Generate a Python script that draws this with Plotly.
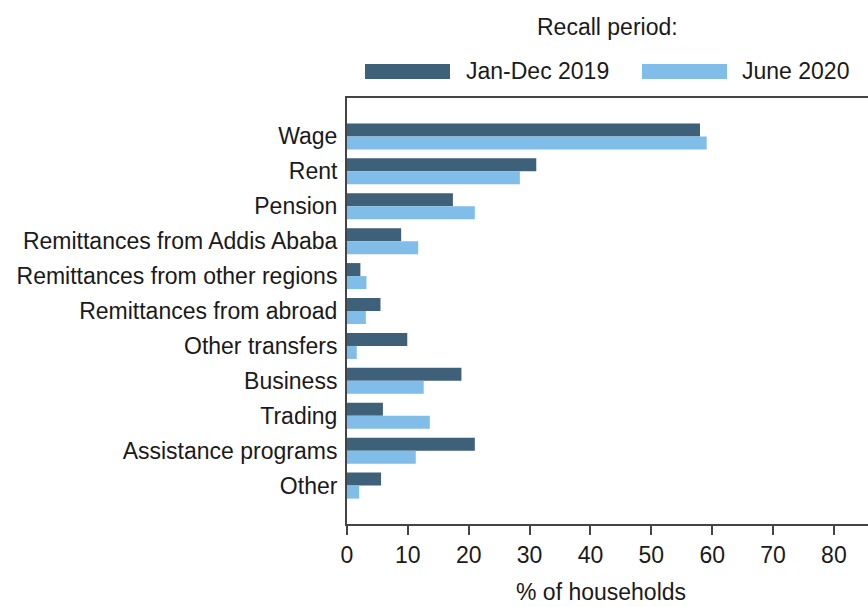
import plotly.graph_objects as go

# Income sources (top to bottom) and share of households reporting each
categories = [
    "Wage",
    "Rent",
    "Pension",
    "Remittances from Addis Ababa",
    "Remittances from other regions",
    "Remittances from abroad",
    "Other transfers",
    "Business",
    "Trading",
    "Assistance programs",
    "Other",
]
jan_dec_2019 = [58.0, 31.1, 17.4, 8.9, 2.2, 5.5, 9.9, 18.8, 5.9, 21.0, 5.6]
june_2020 = [59.1, 28.4, 21.0, 11.7, 3.2, 3.1, 1.6, 12.6, 13.6, 11.3, 2.0]
x_ticks = [0, 10, 20, 30, 40, 50, 60, 70, 80]

series_names = ["Jan-Dec 2019", "June 2020"]
series_colors = ["#3e6079", "#80bde9"]

W, H = 868, 607
ML, MR, MT, MB = 347, 0, 98, 83
PW, PH = W - ML - MR, H - MT - MB
FONT = "Liberation Sans, Arial, sans-serif"
TXT = "#1a1a1a"


def px_x(p):
    return (p - ML) / PW


def px_y(p):
    return (H - MB - p) / PH


fig = go.Figure()
for name, vals, col in zip(series_names, [jan_dec_2019, june_2020], series_colors):
    fig.add_trace(go.Bar(
        y=categories, x=vals, name=name, orientation="h",
        marker=dict(color=col, line=dict(width=0)),
        showlegend=False,
    ))

# Custom legend: wide swatches with labels, plus a heading
shapes = []
annotations = [dict(
    text="Recall period:", x=px_x(607), y=px_y(27), xref="paper", yref="paper",
    showarrow=False, xanchor="center", yanchor="middle",
    font=dict(family=FONT, size=23, color=TXT),
)]
legend_items = [(365, 450, 464), (642, 727, 740)]
for (x0, x1, tx), name, col in zip(legend_items, series_names, series_colors):
    shapes.append(dict(
        type="rect", xref="paper", yref="paper",
        x0=px_x(x0), x1=px_x(x1), y0=px_y(79), y1=px_y(64),
        fillcolor=col, line=dict(width=0),
    ))
    annotations.append(dict(
        text=name, x=px_x(tx), y=px_y(71), xref="paper", yref="paper",
        showarrow=False, xanchor="left", yanchor="middle",
        font=dict(family=FONT, size=23, color=TXT),
    ))

# x-axis title
annotations.append(dict(
    text="% of households", x=px_x(601), y=px_y(592), xref="paper", yref="paper",
    showarrow=False, xanchor="center", yanchor="middle",
    font=dict(family=FONT, size=23, color=TXT),
))

fig.update_layout(
    width=W, height=H,
    margin=dict(l=ML, r=MR, t=MT, b=MB, pad=0),
    paper_bgcolor="white", plot_bgcolor="white",
    barmode="group", bargap=0.255, bargroupgap=0,
    font=dict(family=FONT, size=23, color=TXT),
    shapes=shapes, annotations=annotations,
    xaxis=dict(
        range=[0, 85.6], tickvals=x_ticks, ticks="outside", ticklen=9,
        tickwidth=1.5, tickcolor="#444", showgrid=False, zeroline=False,
        showline=True, linecolor="#444", linewidth=2, mirror=True,
        tickfont=dict(family=FONT, size=23, color=TXT),
    ),
    yaxis=dict(
        range=[len(categories) + 0.1, -1.1], showgrid=False, zeroline=False,
        showline=True, linecolor="#444", linewidth=2, ticks="",
        ticklabelstandoff=3,
        tickfont=dict(family=FONT, size=23, color=TXT),
    ),
)

fig.write_html("out.html")
